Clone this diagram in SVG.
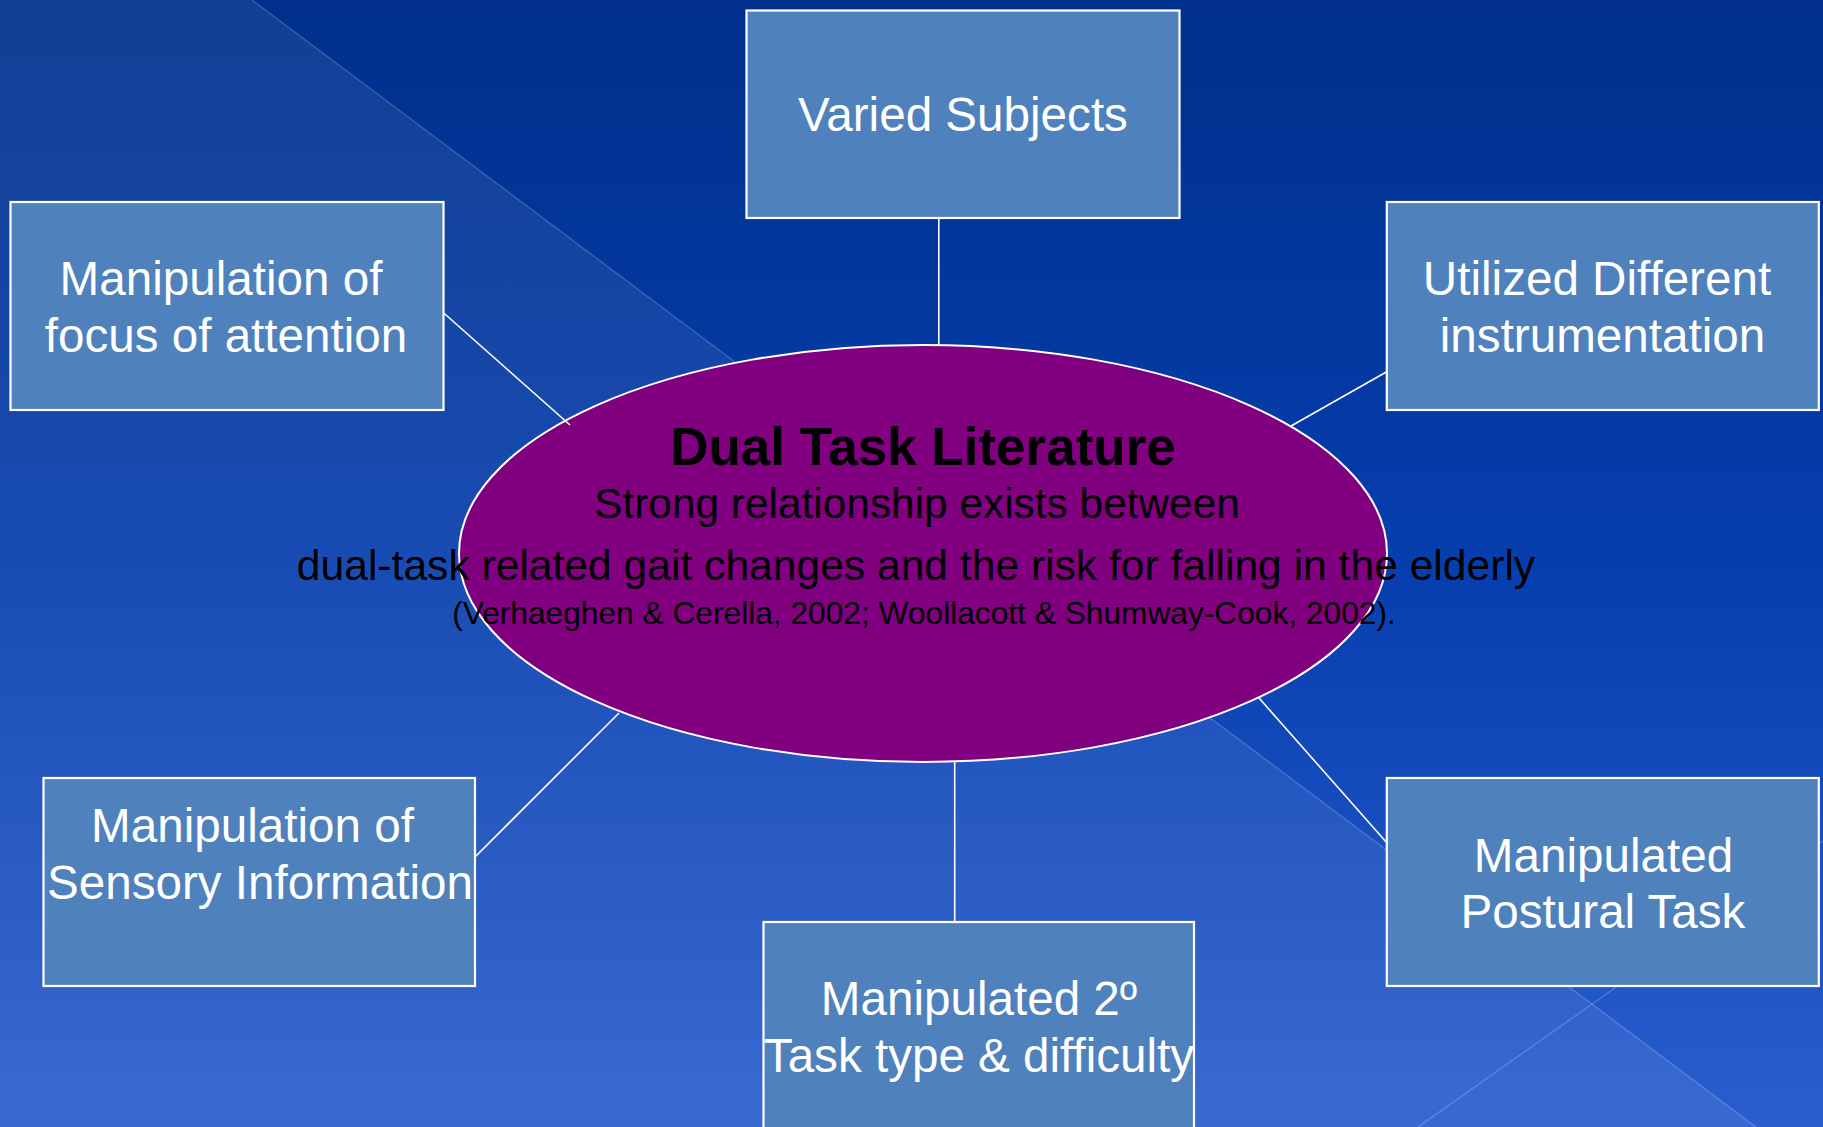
<svg xmlns="http://www.w3.org/2000/svg" width="1823" height="1127" viewBox="0 0 1823 1127">
<defs>
<linearGradient id="bg" x1="0" y1="0" x2="0" y2="1">
<stop offset="0" stop-color="#00308c"/>
<stop offset="0.5" stop-color="#063eae"/>
<stop offset="1" stop-color="#2a5ed0"/>
</linearGradient>
<style>
.box{fill:#4f81bd;stroke:#ffffff;stroke-width:2.2}
.bt{font-family:"Liberation Sans",Arial,sans-serif;font-size:47.6px;fill:#ffffff;text-anchor:middle}
.ct{font-family:"Liberation Sans",Arial,sans-serif;fill:#000000;text-anchor:middle}
.con{stroke:#ffffff;stroke-width:1.6;fill:none}
.deco{stroke:#ffffff;stroke-opacity:0.22;stroke-width:1.2;fill:none}
</style>
</defs>
<g id="background">
<rect x="0" y="0" width="1823" height="1127" fill="url(#bg)"/>
<polygon points="0,0 252,0 1756,1127 0,1127" fill="#ffffff" fill-opacity="0.075"/>
<line class="deco" x1="252" y1="0" x2="1756" y2="1127"/>
<line class="deco" x1="1823" y1="841" x2="1418" y2="1127"/>
</g>
<g id="center">
<ellipse cx="923" cy="553.5" rx="464" ry="208.5" fill="#800080" stroke="#ffffff" stroke-width="2"/>
<text class="ct" x="923" y="465" font-size="53" font-weight="bold">Dual Task Literature</text>
<text class="ct" x="917" y="518" font-size="42.4">Strong relationship exists between</text>
<text class="ct" x="916" y="580" font-size="42.6">dual-task related gait changes and the risk for falling in the elderly</text>
<text class="ct" x="924" y="624" font-size="31.7">(Verhaeghen &amp; Cerella, 2002; Woollacott &amp; Shumway-Cook, 2002).</text>
</g>
<g id="connectors">
<line class="con" x1="938.8" y1="218" x2="938.8" y2="345"/>
<line class="con" x1="443.7" y1="313" x2="570" y2="425"/>
<line class="con" x1="1386.8" y1="371.7" x2="1291" y2="426"/>
<line class="con" x1="475" y1="857" x2="619" y2="713"/>
<line class="con" x1="954.7" y1="762" x2="954.7" y2="921.7"/>
<line class="con" x1="1259" y1="698" x2="1386.8" y2="842.7"/>
</g>
<g id="varied-subjects">
<rect class="box" x="746.5" y="10.5" width="433" height="207.5"/>
<text class="bt" x="963" y="131">Varied Subjects</text>
</g>
<g id="focus-attention">
<rect class="box" x="10.5" y="202" width="433" height="208"/>
<text class="bt" x="221" y="295">Manipulation of</text>
<text class="bt" x="226" y="352">focus of attention</text>
</g>
<g id="instrumentation">
<rect class="box" x="1386.8" y="202" width="432" height="208"/>
<text class="bt" x="1597" y="295">Utilized Different</text>
<text class="bt" x="1602.5" y="352">instrumentation</text>
</g>
<g id="sensory">
<rect class="box" x="43.5" y="778" width="431.5" height="208"/>
<text class="bt" x="252.5" y="841.7">Manipulation of</text>
<text class="bt" x="260" y="899">Sensory Information</text>
</g>
<g id="secondary-task">
<rect class="box" x="763.5" y="922" width="430.5" height="220"/>
<text class="bt" x="979" y="1015">Manipulated 2º</text>
<text class="bt" x="979" y="1071.7">Task type &amp; difficulty</text>
</g>
<g id="postural">
<rect class="box" x="1386.8" y="778" width="432" height="208"/>
<text class="bt" x="1603.5" y="871.7">Manipulated</text>
<text class="bt" x="1603" y="928.3">Postural Task</text>
</g>
</svg>
